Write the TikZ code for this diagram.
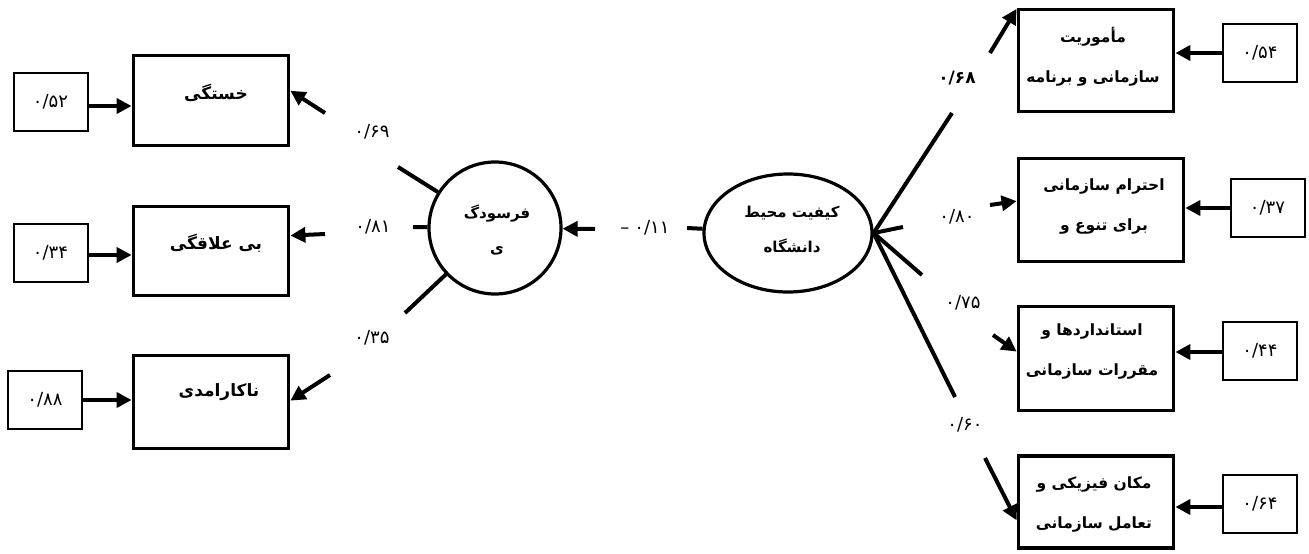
\documentclass[tikz,border=0pt]{standalone}
\usepackage{fontspec}
\usetikzlibrary{shapes.geometric,arrows.meta,calc}
\newfontfamily\fa[Script=Arabic]{DejaVu Sans}
\TeXXeTstate=1
\begin{document}
\begin{tikzpicture}[x=1pt,y=-1pt,
  bigbox/.style={draw,line width=3.8pt,inner sep=0pt},
  errbox/.style={draw,line width=2pt,inner sep=0pt,minimum width=74pt,minimum height=58pt,font=\fa\fontsize{18}{20}\selectfont},
  txt/.style={font=\fa\bfseries\fontsize{15.5}{40}\selectfont,align=center,inner sep=0pt},
  txtl/.style={font=\fa\bfseries\fontsize{17}{20}\selectfont,align=center,inner sep=0pt},
  txtb/.style={font=\fa\bfseries\fontsize{15}{35}\selectfont,align=center,inner sep=0pt},
  lbl/.style={font=\fa\fontsize{18}{20}\selectfont,inner sep=0pt},
  ln/.style={line width=4pt},
  arr/.style={line width=4pt,-{Triangle[length=15pt,width=15pt]}}]
\useasboundingbox (0,0) rectangle (1309,554);

% left latent
\node[circle,draw,line width=3.2pt,minimum size=132pt,inner sep=0pt] (F) at (495,228) {};
\node[txtb] (Ft) at (497,230) {\beginR فرسودگ\endR\\\beginR ی\endR};
% right latent
\node[ellipse,draw,line width=3.2pt,minimum width=168pt,minimum height=118pt,inner sep=0pt] (K) at (788,233) {};
\node[txtb] (Kt) at (792,230) {\beginR کیفیت محیط\endR\\\beginR دانشگاه\endR};

% left indicator boxes
\node[bigbox,minimum width=155pt,minimum height=90pt] (b1) at (211,100.5) {};
\node[txtl] (b1t) at (216,93) {\beginR خستگی\endR};
\node[bigbox,minimum width=155pt,minimum height=89pt] (b2) at (211,251) {};
\node[txtl] (b2t) at (216,243) {\beginR بی علاقگی\endR};
\node[bigbox,minimum width=155pt,minimum height=93pt] (b3) at (211,402) {};
\node[txtl] (b3t) at (219,392) {\beginR ناکارامدی\endR};

% left error boxes
\node[errbox] (s1) at (50.5,102) {۰/۵۲};
\node[errbox] (s2) at (50.5,253) {۰/۳۴};
\node[errbox] (s3) at (45,400) {۰/۸۸};
\draw[arr] (s1.east |- 0,106) -- (b1.west |- 0,106);
\draw[arr] (s2.east |- 0,255) -- (b2.west |- 0,255);
\draw[arr] (s3.east |- 0,400) -- (b3.west |- 0,400);

% right indicator boxes
\node[bigbox,minimum width=155pt,minimum height=102pt] (r1) at (1096,60.5) {};
\node[txt] (r1t) at (1093,56.5) {\beginR مأموریت\endR\\\beginR سازمانی و برنامه\endR};
\node[bigbox,minimum width=165pt,minimum height=103pt] (r2) at (1101,210) {};
\node[txt] (r2t) at (1104,206.5) {\beginR احترام سازمانی\endR\\\beginR برای تنوع و\endR};
\node[bigbox,minimum width=155pt,minimum height=104pt] (r3) at (1096,358.5) {};
\node[txt] (r3t) at (1092,351) {\beginR استانداردها و\endR\\\beginR مقررات سازمانی\endR};
\node[bigbox,minimum width=155pt,minimum height=92pt] (r4) at (1096,502) {};
\node[txt] (r4t) at (1094,504) {\beginR مکان فیزیکی و\endR\\\beginR تعامل سازمانی\endR};

% right error boxes
\node[errbox] (s5) at (1260,53) {۰/۵۴};
\node[errbox] (s6) at (1267.5,208) {۰/۳۷};
\node[errbox] (s7) at (1260,351) {۰/۴۴};
\node[errbox] (s8) at (1260,504) {۰/۶۴};
\draw[arr] (s5.west) -- (s5.west -| r1.east);
\draw[arr] (s6.west) -- (s6.west -| r2.east);
\draw[arr] (s7.west |- 0,352) -- (r3.east |- 0,352);
\draw[arr] (s8.west |- 0,507) -- (r4.east |- 0,507);

% loadings of F
\coordinate (c69) at (398,167);
\coordinate (c81) at (413,227);
\coordinate (c35) at (405,313);
\draw[ln] (F) -- (c69);
\draw[ln] (F) -- (c81);
\draw[ln] (F) -- (c35);
\node[lbl] (l69) at (372,132) {۰/۶۹};
\node[lbl] (l81) at (373,227) {۰/۸۱};
\node[lbl] (l35) at (372,338) {۰/۳۵};
\coordinate (a69) at (325,113);
\coordinate (a81) at (325,234);
\coordinate (a35) at (330,375);
\draw[arr] (a69) -- (b1.7.5);
\draw[arr] (a81) -- (b2.11);
\draw[arr] (a35) -- (b3.1.5);

% structural path
\coordinate (c11) at (687,228);
\draw[ln] (c11) -- (K);
\node[lbl] (l11) at (645,228) {\hbox{–}\hskip5pt\hbox{۰/۱۱}};
\coordinate (a11) at (595,229);
\draw[arr] (a11) -- (F);

% loadings of K
\coordinate (c68) at (952,113);
\coordinate (c80) at (903,227);
\coordinate (c75) at (922,275);
\coordinate (c60) at (955,397);
\draw[ln] (K.east) -- (c68);
\draw[ln] (K.east) -- (c80);
\draw[ln] (K.east) -- (c75);
\draw[ln] (K.east) -- (c60);
\node[lbl,font=\fa\bfseries\fontsize{17}{20}\selectfont] (l68) at (957,78) {۰/۶۸};
\node[lbl] (l80) at (957,217) {۰/۸۰};
\node[lbl] (l75) at (963,303) {۰/۷۵};
\node[lbl] (l60) at (965,425) {۰/۶۰};
\coordinate (a68) at (990,53);
\coordinate (a80) at (990,205);
\coordinate (a75) at (993,335);
\coordinate (a60) at (985,458);
\draw[arr] (a68) -- (r1.147);
\draw[arr] (a80) -- (r2.174.5);
\draw[arr] (a75) -- (r3.175.3);
\draw[arr] (a60) -- (r4.-167);
\end{tikzpicture}
\end{document}
